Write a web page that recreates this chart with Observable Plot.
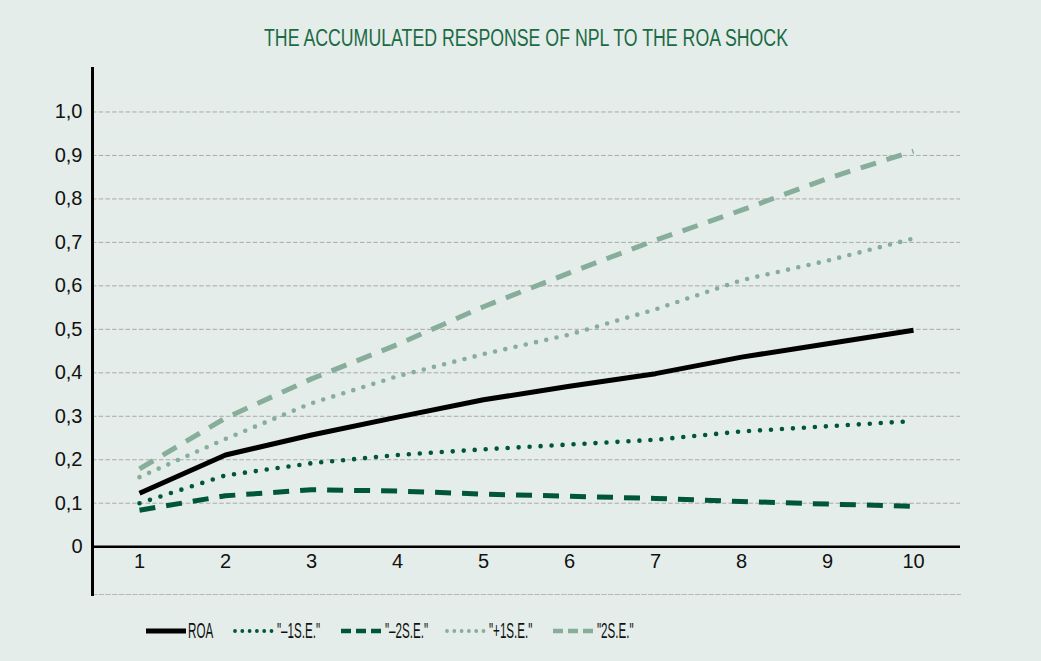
<!DOCTYPE html>
<html><head><meta charset="utf-8">
<script src="https://cdn.jsdelivr.net/npm/d3@7"></script>
<script src="https://cdn.jsdelivr.net/npm/@observablehq/plot@0.6"></script>
<style>
html,body{margin:0;padding:0;background:#e4ede9;}
body{width:1041px;height:661px;position:relative;overflow:hidden;font-family:"Liberation Sans",Arial,sans-serif;}
#title{position:absolute;left:526px;top:25px;white-space:nowrap;color:#1b6a45;font-size:23px;line-height:26px;transform-origin:0 50%;}
#chart{position:absolute;left:0;top:60px;}
#legend{position:absolute;left:0;top:619px;width:1041px;height:24px;font-size:21.5px;line-height:24px;color:#111;}
.item{position:absolute;top:0;display:flex;align-items:center;height:24px;}
.item svg{display:block;}
.item span{display:inline-block;white-space:nowrap;transform-origin:0 50%;}
</style></head><body>
<div id="title"></div>
<div id="chart"></div>
<div id="legend"></div>
<script>
// ---- data ----
const periods = [1, 2, 3, 4, 5, 6, 7, 8, 9, 10];
const roa     = [0.123, 0.211, 0.257, 0.298, 0.338, 0.369, 0.398, 0.436, 0.467, 0.498];
const minus1  = [0.100, 0.164, 0.192, 0.211, 0.224, 0.235, 0.246, 0.265, 0.277, 0.289];
const minus2  = [0.084, 0.117, 0.131, 0.128, 0.121, 0.116, 0.111, 0.104, 0.098, 0.093];
const plus1   = [0.160, 0.248, 0.330, 0.392, 0.443, 0.488, 0.546, 0.613, 0.658, 0.709];
const plus2   = [0.179, 0.296, 0.386, 0.465, 0.552, 0.630, 0.705, 0.774, 0.847, 0.910];
const seriesNames = ["ROA", "\"\u20131S.E.\"", "\"\u20132S.E.\"", "\"+1S.E.\"", "\"2S.E.\""];
const yTicks = [0, 0.1, 0.2, 0.3, 0.4, 0.5, 0.6, 0.7, 0.8, 0.9, 1.0];
const titleText = "THE ACCUMULATED RESPONSE OF NPL TO THE ROA SHOCK";

// ---- styles / layout ----
const dark = "#00563a", light = "#87ad9b";
const styles = [
  {stroke: "#000", dash: null, cap: "butt", w: 5, lw: 5, ldash: null},
  {stroke: dark, dash: "0,11", cap: "round", w: 4.6, lw: 3.8, ldash: "0,7.3"},
  {stroke: dark, dash: "16,11", cap: "butt", w: 5, lw: 4.5, ldash: "10,5"},
  {stroke: light, dash: "0,10.5", cap: "round", w: 4.6, lw: 3.8, ldash: "0,7.3"},
  {stroke: light, dash: "16,11", cap: "butt", w: 5, lw: 4.5, ldash: "10,5"}
];
const legendX = [146, 233, 341, 445, 553];
const legendScale = 0.54;
const seriesValues = [roa, minus1, minus2, plus1, plus2];
const rows = seriesValues.flatMap((vals, k) => periods.map((p, i) => ({period: p, value: vals[i], k})));

// title, condensed to the reference width
const title = document.getElementById("title");
title.textContent = titleText;
const tw = title.getBoundingClientRect().width;
const ts = 524 / tw;
title.style.transform = `translateX(${-262}px) scaleX(${ts})`;

const font = '"Liberation Sans",Arial,sans-serif';
const drawOrder = [2, 1, 4, 3, 0];
const chart = Plot.plot({
  width: 1041, height: 545,
  marginTop: 8, marginBottom: 11, marginLeft: 92, marginRight: 81,
  style: {background: "transparent", fontFamily: font, fontSize: "20px", color: "#111", overflow: "visible"},
  x: {type: "point", domain: periods, padding: 0.5, axis: null},
  y: {domain: [-0.11, 1.1], axis: null},
  marks: [
    Plot.ruleY(yTicks.filter(t => t > 0), {stroke: "#a9a9a9", strokeWidth: 1, strokeDasharray: "4.5,2.2"}),
    Plot.frame({anchor: "bottom", stroke: "#b8b8b8", strokeWidth: 1, strokeDasharray: "4.5,2.2"}),
    ...drawOrder.map(k => Plot.line(rows.filter(d => d.k === k), {
      x: "period", y: "value", stroke: styles[k].stroke, strokeWidth: styles[k].w,
      strokeDasharray: styles[k].dash, strokeLinecap: styles[k].cap, strokeLinejoin: "round"
    })),
    Plot.ruleY([0], {stroke: "#000", strokeWidth: 2.6}),
    Plot.frame({anchor: "left", stroke: "#000", strokeWidth: 3}),
    Plot.axisY({ticks: yTicks, tickSize: 0, tickPadding: 10, fontSize: 20, label: null,
      tickFormat: d => d === 0 ? "0" : d.toFixed(1).replace(".", ",")}),
    Plot.text(periods, {x: d => d, frameAnchor: "bottom", dy: -27, text: d => String(d), fontSize: 20, fill: "#111"})
  ]
});
document.getElementById("chart").appendChild(chart);

// ---- legend ----
const legend = document.getElementById("legend");
const ns = "http://www.w3.org/2000/svg";
seriesNames.forEach((name, k) => {
  const s = styles[k];
  const item = document.createElement("div");
  item.className = "item";
  item.style.left = legendX[k] + "px";
  const svg = document.createElementNS(ns, "svg");
  svg.setAttribute("width", 41); svg.setAttribute("height", 12);
  const ln = document.createElementNS(ns, "line");
  const x0 = s.cap === "round" ? 2 : 0, x1 = 40;
  ln.setAttribute("x1", x0); ln.setAttribute("x2", x1);
  ln.setAttribute("y1", 6); ln.setAttribute("y2", 6);
  ln.setAttribute("stroke", s.stroke); ln.setAttribute("stroke-width", s.lw);
  ln.setAttribute("stroke-linecap", s.cap);
  if (s.ldash) ln.setAttribute("stroke-dasharray", s.ldash);
  svg.appendChild(ln);
  item.appendChild(svg);
  const t = document.createElement("span");
  t.textContent = name;
  t.style.transform = `scaleX(${legendScale})`;
  t.style.marginLeft = (k === 0 ? 1 : 3) + "px";
  item.appendChild(t);
  legend.appendChild(item);
});
</script>
</body></html>
